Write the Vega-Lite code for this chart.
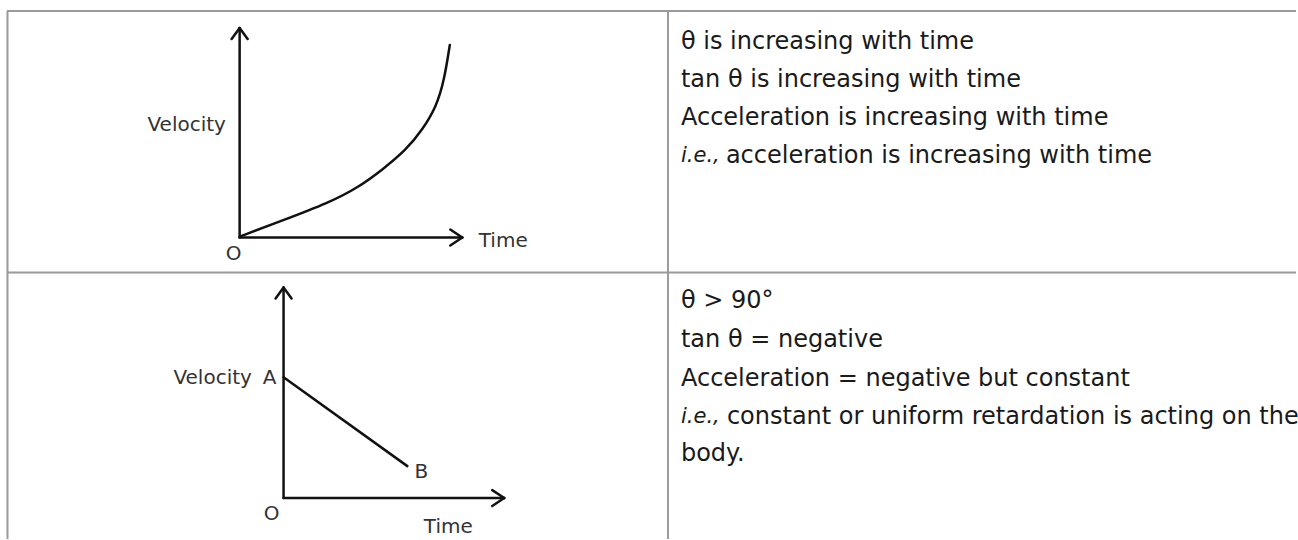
{
  "$schema": "https://vega.github.io/schema/vega-lite/v6.json",
  "width": 1298,
  "height": 540,
  "autosize": {"type": "fit", "contains": "padding"},
  "padding": 0,
  "background": "white",
  "config": {"view": {"stroke": null}},
  "datasets": {
    "borders": [
      {"x": 7, "y": 11, "x2": 1298, "y2": 11},
      {"x": 7.5, "y": 11, "x2": 7.5, "y2": 540},
      {"x": 669, "y": 11, "x2": 669, "y2": 540},
      {"x": 7, "y": 273, "x2": 1298, "y2": 273}
    ],
    "axes": [
      {"x": 240, "y": 28, "x2": 240, "y2": 238},
      {"x": 240, "y": 238, "x2": 463, "y2": 238},
      {"x": 232, "y": 39, "x2": 240, "y2": 28},
      {"x": 248, "y": 39, "x2": 240, "y2": 28},
      {"x": 451, "y": 230, "x2": 463, "y2": 238},
      {"x": 451, "y": 246, "x2": 463, "y2": 238},
      {"x": 284, "y": 288, "x2": 284, "y2": 499},
      {"x": 284, "y": 499, "x2": 505, "y2": 499},
      {"x": 276, "y": 299, "x2": 284, "y2": 288},
      {"x": 292, "y": 299, "x2": 284, "y2": 288},
      {"x": 493, "y": 491, "x2": 505, "y2": 499},
      {"x": 493, "y": 507, "x2": 505, "y2": 499},
      {"x": 284, "y": 378, "x2": 408, "y2": 467}
    ],
    "curve": [
      {"x": 240, "y": 237},
      {"x": 280, "y": 222},
      {"x": 330, "y": 203},
      {"x": 360, "y": 187},
      {"x": 383, "y": 170},
      {"x": 407, "y": 150},
      {"x": 423, "y": 130},
      {"x": 437, "y": 107},
      {"x": 445, "y": 80},
      {"x": 450.5, "y": 45}
    ],
    "labels": [
      {"x": 187, "y": 125, "text": "Velocity"},
      {"x": 504, "y": 241, "text": "Time"},
      {"x": 234, "y": 254, "text": "O"},
      {"x": 213, "y": 379, "text": "Velocity"},
      {"x": 270, "y": 379, "text": "A"},
      {"x": 422, "y": 473, "text": "B"},
      {"x": 272, "y": 515, "text": "O"},
      {"x": 449, "y": 528, "text": "Time"}
    ],
    "body": [
      {"x": 682, "y": 42, "text": "θ is increasing with time"},
      {"x": 682, "y": 80, "text": "tan θ is increasing with time"},
      {"x": 682, "y": 118, "text": "Acceleration is increasing with time"},
      {"x": 727, "y": 156, "text": "acceleration is increasing with time"},
      {"x": 682, "y": 302, "text": "θ > 90°"},
      {"x": 682, "y": 341, "text": "tan θ = negative"},
      {"x": 682, "y": 380, "text": "Acceleration = negative but constant"},
      {"x": 728, "y": 418, "text": "constant or uniform retardation is acting on the"},
      {"x": 682, "y": 455, "text": "body."}
    ],
    "italic": [
      {"x": 682, "y": 156, "text": "i.e.,"},
      {"x": 682, "y": 418, "text": "i.e.,"}
    ]
  },
  "layer": [
    {
      "data": {"name": "borders"},
      "mark": {"type": "rule", "color": "#9a9a9a", "strokeWidth": 2},
      "encoding": {
        "x": {"field": "x", "type": "quantitative", "scale": {"domain": [0, 1298], "nice": false, "zero": false}, "axis": null},
        "y": {"field": "y", "type": "quantitative", "scale": {"domain": [0, 540], "reverse": true, "nice": false, "zero": false}, "axis": null},
        "x2": {"field": "x2"},
        "y2": {"field": "y2"}
      }
    },
    {
      "data": {"name": "axes"},
      "mark": {"type": "rule", "color": "#111111", "strokeWidth": 2.5, "strokeCap": "round"},
      "encoding": {
        "x": {"field": "x", "type": "quantitative"},
        "y": {"field": "y", "type": "quantitative"},
        "x2": {"field": "x2"},
        "y2": {"field": "y2"}
      }
    },
    {
      "data": {"name": "curve"},
      "mark": {"type": "line", "color": "#111111", "strokeWidth": 2.5, "interpolate": "basis", "strokeCap": "round"},
      "encoding": {
        "x": {"field": "x", "type": "quantitative"},
        "y": {"field": "y", "type": "quantitative"}
      }
    },
    {
      "data": {"name": "labels"},
      "mark": {"type": "text", "font": "DejaVu Sans", "fontSize": 20, "color": "#333333", "align": "center", "baseline": "middle"},
      "encoding": {
        "x": {"field": "x", "type": "quantitative"},
        "y": {"field": "y", "type": "quantitative"},
        "text": {"field": "text"}
      }
    },
    {
      "data": {"name": "body"},
      "mark": {"type": "text", "font": "DejaVu Sans", "fontSize": 24, "color": "#1a1a1a", "align": "left", "baseline": "middle"},
      "encoding": {
        "x": {"field": "x", "type": "quantitative"},
        "y": {"field": "y", "type": "quantitative"},
        "text": {"field": "text"}
      }
    },
    {
      "data": {"name": "italic"},
      "mark": {"type": "text", "font": "DejaVu Sans", "fontSize": 21, "fontStyle": "italic", "color": "#1a1a1a", "align": "left", "baseline": "middle"},
      "encoding": {
        "x": {"field": "x", "type": "quantitative"},
        "y": {"field": "y", "type": "quantitative"},
        "text": {"field": "text"}
      }
    }
  ]
}
